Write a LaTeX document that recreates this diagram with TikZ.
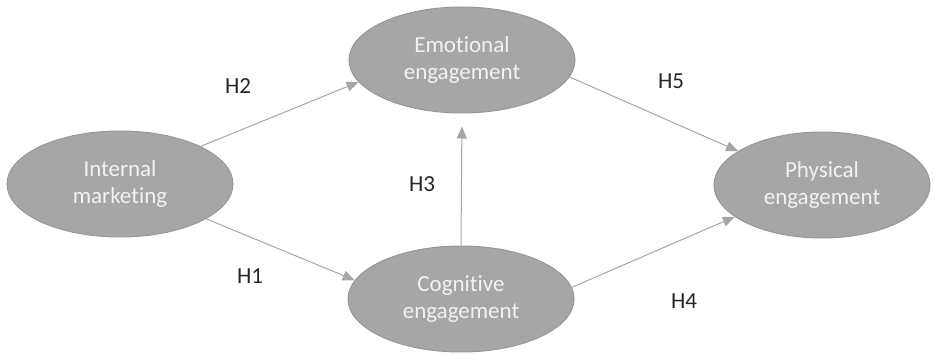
\documentclass[tikz,border=0pt]{standalone}
\usepackage{fontspec}
\setmainfont{Carlito}[Ligatures=NoCommon]
\usetikzlibrary{shapes.geometric,arrows.meta}
\definecolor{ovalgray}{HTML}{A6A6A6}
\definecolor{ovaledge}{HTML}{979797}
\definecolor{ovaltext}{HTML}{F2F2F2}
\definecolor{hyptext}{HTML}{262626}
\tikzset{
 construct/.style={ellipse,draw=ovaledge,fill=ovalgray,text=ovaltext,line width=1pt,
   minimum width=226pt,minimum height=106pt,inner sep=0pt,align=center,
   font=\fontsize{23}{27}\selectfont},
 hyparrow/.style={draw=ovalgray,line width=1pt,-{Triangle[length=12pt,width=10pt]}},
 hyplabel/.style={text=hyptext,inner sep=0pt,font=\fontsize{23}{27}\selectfont}
}
\begin{document}
\begin{tikzpicture}[x=1pt,y=-1pt]
 \useasboundingbox (0,0) rectangle (935,355);
 % constructs
 \node[construct] (im) at (120,184) {Internal\\marketing};
 \node[construct] (em) at (462,60) {Emotional\\engagement};
 \node[construct] (ce) at (461,299) {Cognitive\\engagement};
 \node[construct,minimum width=216pt] (pe) at (822,185) {Physical\\engagement};
 % hypotheses
 \draw[hyparrow] (im.25) -- (em.192);
 \draw[hyparrow] (im.-22) -- (ce.170);
 \draw[hyparrow,shorten >=13pt] (ce.90) -- (em.270);
 \draw[hyparrow] (em.-9) -- (pe.158);
 \draw[hyparrow] (ce.6) -- (pe.200);
 \node[hyplabel] (h1) at (250,276) {H1};
 \node[hyplabel] (h2) at (238,86) {H2};
 \node[hyplabel] (h3) at (422,184) {H3};
 \node[hyplabel] (h4) at (684,301) {H4};
 \node[hyplabel] (h5) at (671,81) {H5};
\end{tikzpicture}
\end{document}
